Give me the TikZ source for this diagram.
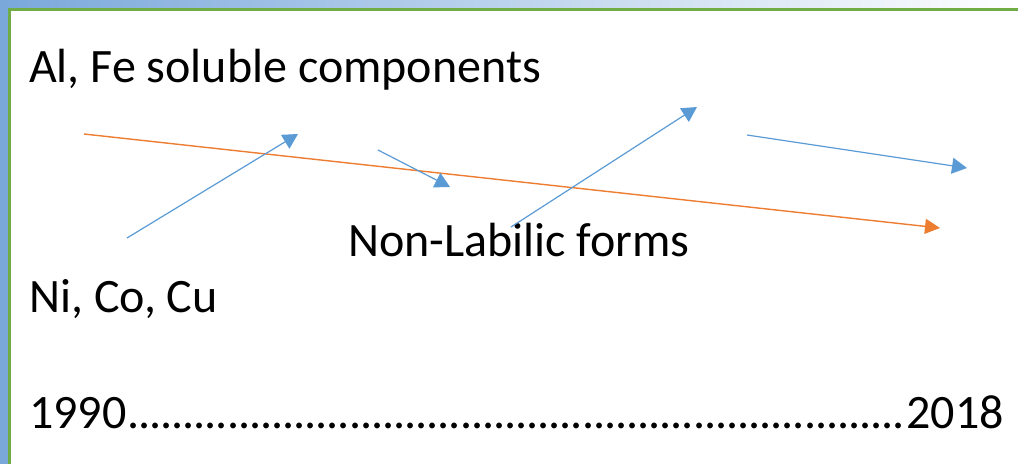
\documentclass[tikz,border=0pt]{standalone}
\usepackage{fontspec}
\setmainfont{Carlito}
\usetikzlibrary{arrows.meta}
\definecolor{lineblue}{HTML}{5B9BD5}
\definecolor{lineorange}{HTML}{ED7D31}
\definecolor{framegreen}{HTML}{70AD47}
\definecolor{bandblue}{HTML}{7AA8DB}
\tikzset{
  lbl/.style={anchor=base west, inner sep=0pt, font=\fontsize{48}{56}\selectfont, text=black},
  bluearrow/.style={draw=lineblue, line width=1.2pt, -{Triangle[length=15pt,width=16pt]}},
  orangearrow/.style={draw=lineorange, line width=1.4pt, -{Triangle[length=15pt,width=15pt]}}
}
\begin{document}
\begin{tikzpicture}[x=1pt,y=-1pt]
\useasboundingbox (0,0) rectangle (1018,464);
\fill[white] (0,0) rectangle (1018,464);
% frame
\shade[left color=bandblue, right color=white] (0,0) rectangle (1018,8.5);
\fill[bandblue] (0,0) rectangle (8,464);
\draw[framegreen, line width=2.6pt] (9.5,464) -- (9.5,9.7) -- (1018,9.7);
% labels
\node[lbl] (al) at (29,82) {Al, Fe soluble components};
\node[lbl] (nonlab) at (348,256) {Non-Labilic forms};
\node[lbl] (ni) at (29,312) {Ni, Co, Cu};
\node[lbl] (years) at (29,428) {\hbox to 976pt{1990\kern-4pt\cleaders\hbox{.\kern-1pt}\hfill\kern-2pt 2018}};
% arrow end points
\coordinate (o1) at (84,134);
\coordinate (o2) at (940,228);
\coordinate (b1s) at (127,238);
\coordinate (b1e) at (298,134);
\coordinate (b2s) at (378,150);
\coordinate (b2e) at (450,187);
\coordinate (b3s) at (511,227);
\coordinate (b3e) at (697,107);
\coordinate (b4s) at (747,135);
\coordinate (b4e) at (967,168);
% arrows
\draw[orangearrow] (o1) -- (o2);
\draw[bluearrow] (b1s) -- (b1e);
\draw[bluearrow] (b2s) -- (b2e);
\draw[bluearrow] (b3s) -- (b3e);
\draw[bluearrow] (b4s) -- (b4e);
\end{tikzpicture}
\end{document}
